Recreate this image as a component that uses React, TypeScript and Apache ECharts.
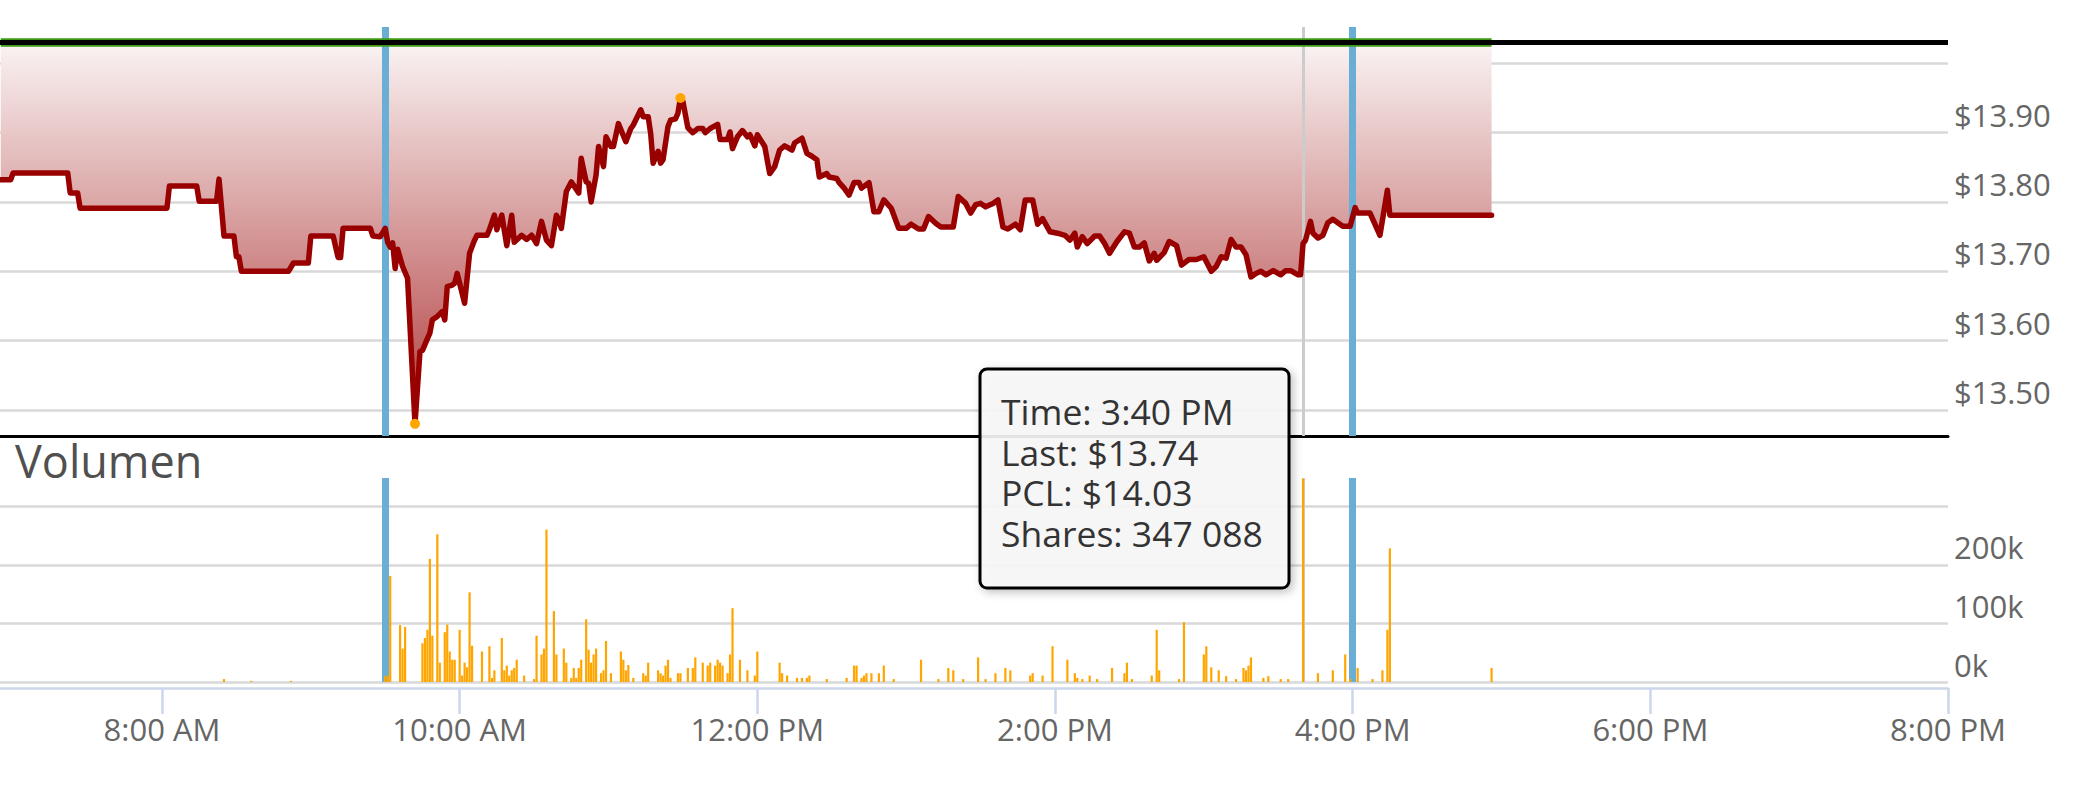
import React, { useEffect, useRef } from 'react';
import * as echarts from 'echarts';

// ---------- data ----------
const priceTimes = [
  '06:55','06:59','07:00','07:22','07:23','07:26','07:27','08:02','08:03','08:14','08:15','08:22','08:23','08:25','08:29','08:30','08:31','08:32','08:51','08:53','08:59','09:00','09:09','09:11','09:12','09:13','09:24','09:25','09:28','09:30','09:31','09:32','09:33','09:34','09:35','09:37','09:39','09:42','09:44','09:45','09:47','09:48','09:49','09:51','09:53','09:54','09:55','09:57','09:58','09:59','10:02','10:04','10:06','10:07','10:11','10:12','10:14','10:15','10:17','10:19','10:21','10:22','10:25','10:27','10:29','10:31','10:33','10:35','10:37','10:39','10:40','10:41','10:43','10:45','10:48','10:49','10:51','10:52','10:53','10:55','10:56','10:58','10:59','11:01','11:02','11:04','11:07','11:09','11:10','11:13','11:14','11:16','11:17','11:18','11:20','11:21','11:22','11:24','11:25','11:27','11:28','11:29','11:30','11:32','11:34','11:36','11:38','11:39','11:41','11:44','11:45','11:48','11:49','11:50','11:52','11:54','11:56','11:57','11:59','12:00','12:03','12:05','12:07','12:09','12:11','12:14','12:15','12:18','12:20','12:22','12:24','12:25','12:28','12:29','12:32','12:33','12:35','12:37','12:39','12:41','12:42','12:45','12:47','12:49','12:51','12:54','12:57','13:00','13:02','13:05','13:07','13:09','13:12','13:14','13:19','13:21','13:24','13:26','13:28','13:30','13:32','13:35','13:37','13:39','13:41','13:44','13:46','13:48','13:51','13:53','13:55','13:58','14:01','14:04','14:06','14:08','14:09','14:11','14:13','14:16','14:18','14:20','14:22','14:25','14:28','14:30','14:32','14:34','14:36','14:38','14:40','14:41','14:44','14:46','14:49','14:51','14:54','14:57','15:00','15:03','15:05','15:07','15:09','15:11','15:13','15:15','15:17','15:19','15:21','15:23','15:25','15:28','15:31','15:33','15:35','15:38','15:39','15:40','15:41','15:43','15:44','15:46','15:48','15:50','15:52','15:54','15:56','15:59','16:01','16:02','16:07','16:11','16:14','16:15','16:56'
];
const prices = [
  13.832,13.832,13.842,13.842,13.813,13.813,13.791,13.791,13.823,13.823,13.801,13.801,13.833,13.751,13.751,13.721,13.721,13.700,13.700,13.712,13.712,13.751,13.751,13.720,13.720,13.762,13.762,13.751,13.750,13.762,13.742,13.735,13.741,13.704,13.732,13.707,13.690,13.480,13.584,13.586,13.603,13.611,13.630,13.635,13.642,13.630,13.678,13.680,13.683,13.697,13.654,13.726,13.745,13.752,13.752,13.760,13.781,13.760,13.781,13.737,13.781,13.742,13.752,13.746,13.752,13.740,13.772,13.745,13.737,13.781,13.774,13.762,13.815,13.829,13.813,13.863,13.829,13.827,13.800,13.839,13.880,13.851,13.894,13.880,13.880,13.913,13.887,13.906,13.911,13.933,13.923,13.923,13.899,13.856,13.873,13.856,13.861,13.909,13.918,13.920,13.928,13.950,13.945,13.907,13.900,13.906,13.906,13.900,13.906,13.912,13.890,13.890,13.901,13.877,13.894,13.903,13.894,13.897,13.881,13.897,13.880,13.841,13.851,13.875,13.881,13.875,13.885,13.892,13.870,13.866,13.861,13.836,13.841,13.836,13.834,13.828,13.820,13.810,13.828,13.828,13.820,13.828,13.786,13.786,13.803,13.791,13.762,13.762,13.768,13.761,13.761,13.779,13.769,13.764,13.764,13.808,13.798,13.784,13.796,13.798,13.793,13.798,13.803,13.764,13.761,13.768,13.760,13.803,13.803,13.768,13.776,13.757,13.755,13.752,13.745,13.755,13.735,13.750,13.740,13.751,13.751,13.740,13.726,13.743,13.757,13.755,13.735,13.735,13.741,13.715,13.726,13.716,13.727,13.743,13.737,13.709,13.717,13.717,13.721,13.700,13.707,13.721,13.719,13.746,13.735,13.735,13.724,13.692,13.697,13.700,13.695,13.701,13.695,13.701,13.701,13.695,13.695,13.740,13.745,13.772,13.755,13.748,13.752,13.770,13.775,13.770,13.765,13.765,13.792,13.784,13.784,13.752,13.817,13.781,13.781
];

const volumeTimes = [
  '08:25','08:36','08:52','09:30','09:31','09:32','09:36','09:37','09:38','09:45','09:46','09:47','09:48','09:49','09:51','09:52','09:54','09:55','09:56','09:57','09:58','10:00','10:01','10:02','10:03','10:04','10:05','10:09','10:12','10:13','10:14','10:17','10:18','10:19','10:20','10:21','10:22','10:23','10:26','10:30','10:31','10:33','10:34','10:35','10:38','10:39','10:42','10:43','10:45','10:46','10:47','10:48','10:49','10:51','10:52','10:53','10:54','10:55','10:57','10:58','10:59','11:01','11:05','11:06','11:07','11:08','11:10','11:14','11:15','11:16','11:20','11:21','11:22','11:23','11:24','11:25','11:28','11:29','11:32','11:34','11:35','11:38','11:40','11:41','11:43','11:44','11:45','11:46','11:48','11:49','11:50','11:53','11:56','11:59','12:00','12:09','12:10','12:12','12:16','12:18','12:20','12:21','12:28','12:36','12:39','12:40','12:42','12:43','12:44','12:46','12:49','12:51','12:55','13:06','13:13','13:17','13:19','13:23','13:29','13:32','13:36','13:40','13:42','13:50','13:51','13:55','13:59','14:05','14:08','14:09','14:11','14:14','14:17','14:23','14:28','14:29','14:31','14:39','14:41','14:42','14:50','14:52','15:00','15:01','15:03','15:06','15:09','15:13','15:16','15:17','15:18','15:19','15:24','15:26','15:31','15:34','15:40','15:46','15:52','15:57','15:59','16:02','16:08','16:12','16:14','16:15','16:56'
];
const volumes = [
  5000,2000,2000,10000,11000,181000,97000,57000,94000,66000,75000,89000,210000,79000,252000,33000,85000,98000,52000,38000,38000,89000,11000,33000,25000,153000,62000,52000,61000,7000,20000,75000,20000,28000,11000,20000,24000,38000,11000,5000,79000,47000,57000,260000,121000,47000,57000,33000,7000,24000,7000,24000,38000,107000,55000,33000,47000,57000,15000,20000,70000,15000,52000,38000,20000,29000,7000,15000,11000,33000,20000,15000,11000,28000,38000,7000,15000,15000,24000,24000,42000,33000,28000,33000,28000,38000,33000,28000,15000,47000,126000,38000,20000,11000,52000,33000,15000,11000,7000,7000,7000,11000,5000,7000,28000,28000,7000,11000,15000,15000,15000,28000,5000,38000,5000,24000,20000,5000,42000,5000,15000,24000,20000,11000,15000,11000,61000,38000,15000,7000,5000,11000,5000,24000,15000,33000,5000,11000,89000,20000,5000,102000,47000,61000,25000,20000,10000,5000,24000,20000,28000,42000,7000,10000,5000,5000,347088,15000,20000,47000,5000,24000,5000,20000,89000,228000,24000
];

const pcl = 14.03;
const sessionTimes = ['09:30', '16:00'];
const hoverTime = '15:40';
const xTickTimes = ['08:00', '10:00', '12:00', '14:00', '16:00', '18:00', '20:00'];
const axisStartMinutes = 414.7;
const axisEndTime = '20:00';
const priceAxisMin = 13.4625;
const priceAxisMax = 14.0524;
const volumeAxisMax = 348000;
const volumeTitle = 'Volumen';

// ---------- helpers ----------
const toMin = (t: string) => {
  const [h, m] = t.split(':').map(Number);
  return h * 60 + m;
};
const fmt12 = (mins: number) => {
  const h = Math.floor(mins / 60);
  const m = Math.round(mins % 60);
  const ap = h >= 12 ? 'PM' : 'AM';
  const h12 = h % 12 === 0 ? 12 : h % 12;
  return `${h12}:${String(m).padStart(2, '0')} ${ap}`;
};
const isStep = (v: number, step: number) => Math.abs(v / step - Math.round(v / step)) < 1e-6;
const fmtShares = (v: number) => String(v).replace(/\B(?=(\d{3})+(?!\d))/g, ' ');

const FONT = '"Open Sans", "DejaVu Sans", sans-serif';

export default function App() {
  const ref = useRef<HTMLDivElement>(null);

  useEffect(() => {
    if (!ref.current) return;
    const chart = echarts.init(ref.current, null, { renderer: 'svg' });

    const pricePts = priceTimes.map((t, i) => [toMin(t), prices[i]]);
    const volPts = volumeTimes.map((t, i) => [toMin(t), volumes[i]]);
    const firstMin = toMin(priceTimes[0]);
    const lastMin = toMin(priceTimes[priceTimes.length - 1]);
    const hoverMin = toMin(hoverTime);
    const hoverPrice = prices[priceTimes.indexOf(hoverTime)];
    const hoverVol = volumes[volumeTimes.indexOf(hoverTime)];
    const sessionMins = sessionTimes.map(toMin);
    const tickMins = xTickTimes.map(toMin);
    const xMax = toMin(axisEndTime);

    const tooltipText = [
      `Time: ${fmt12(hoverMin)}`,
      `Last: $${hoverPrice.toFixed(2)}`,
      `PCL: $${pcl.toFixed(2)}`,
      `Shares: ${fmtShares(hoverVol)}`,
    ].join('\n');

    const vLines = () => [
      ...sessionMins.map((m) => ({ xAxis: m, lineStyle: { color: '#6aaed6', width: 7, type: 'solid' } })),
      { xAxis: hoverMin, lineStyle: { color: '#cccccc', width: 3, type: 'solid' } },
    ];

    const option: any = {
      animation: false,
      textStyle: { fontFamily: FONT },
      title: {
        text: volumeTitle,
        left: 15,
        top: 438,
        padding: 0,
        textStyle: { fontSize: 45, fontWeight: 'normal', color: '#505050', fontFamily: FONT },
      },
      grid: [
        { left: 0, right: 138, top: 27, height: 409 },
        { left: 0, right: 138, top: 478, height: 204 },
      ],
      xAxis: [
        {
          type: 'value', gridIndex: 0, min: axisStartMinutes, max: xMax,
          axisLine: { show: true, onZero: false, lineStyle: { color: '#000', width: 3 } },
          axisTick: { show: false }, axisLabel: { show: false }, splitLine: { show: false },
        },
        {
          type: 'value', gridIndex: 1, min: axisStartMinutes, max: xMax, offset: 6,
          axisLine: { show: true, onZero: false, lineStyle: { color: '#ccd6eb', width: 2.5 } },
          axisTick: { show: true, length: 26, customValues: tickMins, lineStyle: { color: '#ccd6eb', width: 2.5 } },
          axisLabel: {
            customValues: tickMins,
            formatter: (v: number) => (isStep(v, 120) ? fmt12(v) : ''),
            fontSize: 31, color: '#666', margin: 25, fontFamily: FONT,
          },
          splitLine: { show: false },
        },
      ],
      yAxis: [
        {
          type: 'value', gridIndex: 0, position: 'right', min: priceAxisMin, max: priceAxisMax,
          minInterval: 0.1, maxInterval: 0.1,
          axisLine: { show: false }, axisTick: { show: false },
          axisLabel: {
            margin: 6, align: 'left', verticalAlign: 'bottom', lineHeight: 36,
            fontSize: 31, color: '#666', fontFamily: FONT,
            formatter: (v: number) => (isStep(v, 0.1) && v < 13.99 ? '$' + v.toFixed(2) : ''),
          },
          splitLine: { show: true, showMinLine: false, showMaxLine: false, lineStyle: { color: '#d8d8d8', width: 2.5 } },
        },
        {
          type: 'value', gridIndex: 1, position: 'right', min: 0, max: volumeAxisMax,
          minInterval: 100000, maxInterval: 100000,
          axisLine: { show: false }, axisTick: { show: false },
          axisLabel: {
            margin: 6, align: 'left', verticalAlign: 'bottom', lineHeight: 35,
            fontSize: 31, color: '#666', fontFamily: FONT,
            formatter: (v: number) => (isStep(v, 100000) && v < 300000 ? v / 1000 + 'k' : ''),
          },
          splitLine: { show: true, showMinLine: true, showMaxLine: false, lineStyle: { color: '#d8d8d8', width: 2.5 } },
        },
      ],
      series: [
        {
          name: 'area', type: 'line', xAxisIndex: 0, yAxisIndex: 0, z: 1, silent: true,
          data: pricePts, symbol: 'none', showSymbol: false,
          lineStyle: { width: 0, opacity: 0 },
          areaStyle: {
            origin: pcl, opacity: 1,
            color: new echarts.graphic.LinearGradient(0, 0, 0, 1, [
              { offset: 0, color: '#faf3f3' },
              { offset: 1, color: '#b03c3c' },
            ]),
          },
        },
        {
          name: 'priceMarks', type: 'line', xAxisIndex: 0, yAxisIndex: 0, z: 2, silent: true, data: [],
          markLine: { z: 2, symbol: ['none', 'none'], silent: true, label: { show: false }, animation: false, data: vLines() },
        },
        {
          name: 'Last', type: 'line', xAxisIndex: 0, yAxisIndex: 0, z: 3,
          data: pricePts, symbol: 'none', showSymbol: false,
          lineStyle: { color: '#990000', width: 5.5, join: 'round', cap: 'round' },
          markPoint: {
            z: 6, symbol: 'circle', symbolSize: 10, silent: true, animation: false,
            itemStyle: { color: '#ffa500' }, label: { show: false },
            data: [{ type: 'min' }, { type: 'max' }],
          },
        },
        {
          name: 'PCL', type: 'line', xAxisIndex: 0, yAxisIndex: 0, z: 4, silent: true,
          data: [[firstMin, pcl], [lastMin, pcl]], symbol: 'none', showSymbol: false,
          lineStyle: { color: '#3a9a10', width: 8.5 },
        },
        {
          name: 'pclLine', type: 'line', xAxisIndex: 0, yAxisIndex: 0, z: 5, silent: true, data: [],
          markLine: {
            z: 5, symbol: ['none', 'none'], silent: true, label: { show: false }, animation: false,
            data: [{ yAxis: pcl, lineStyle: { color: '#000', width: 5, type: 'solid' } }],
          },
        },
        {
          name: 'volMarks', type: 'line', xAxisIndex: 1, yAxisIndex: 1, z: 1, silent: true, data: [],
          markLine: { z: 1, symbol: ['none', 'none'], silent: true, label: { show: false }, animation: false, data: vLines() },
        },
        {
          name: 'Shares', type: 'bar', xAxisIndex: 1, yAxisIndex: 1, z: 3,
          data: volPts, barWidth: 2.2, itemStyle: { color: '#ffa500' },
        },
      ],
      graphic: [
        {
          type: 'group', z: 100, silent: true,
          children: [
            {
              type: 'rect', z: 100,
              shape: { x: 980, y: 369, width: 309, height: 219, r: 7 },
              style: {
                fill: 'rgba(248,248,248,0.9)', stroke: '#000', lineWidth: 3,
                shadowBlur: 8, shadowOffsetX: 3, shadowOffsetY: 3, shadowColor: 'rgba(0,0,0,0.25)',
              },
            },
            {
              type: 'text', z: 101,
              x: 1001,
              y: 390.75,
              style: {
                text: tooltipText, fill: '#333', fontSize: 35.5, fontFamily: FONT, lineHeight: 40.5,
                align: 'left', verticalAlign: 'top',
              },
            },
          ],
        },
      ],
    };

    chart.setOption(option);
    return () => chart.dispose();
  }, []);

  return (
    <div
      ref={ref}
      style={{ position: 'absolute', left: 0, top: 0, width: 2086, height: 796, background: '#fff' }}
    />
  );
}
